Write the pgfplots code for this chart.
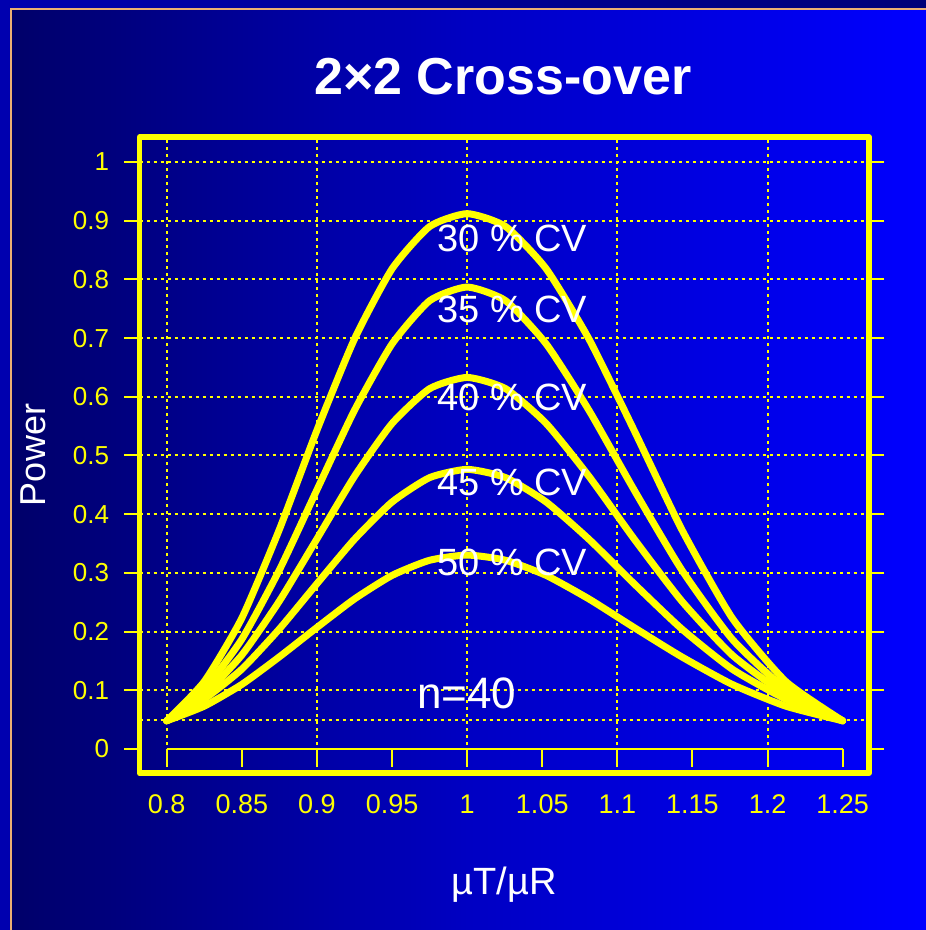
\documentclass[border=0pt]{standalone}
\usepackage{fontspec}
\setmainfont{Liberation Sans}
\usepackage{pgfplots}
\pgfplotsset{compat=1.18}
\definecolor{bgL}{RGB}{0,0,105}
\definecolor{bgM}{RGB}{0,0,195}
\definecolor{bgR}{RGB}{0,0,255}
\definecolor{outL}{RGB}{0,0,175}
\definecolor{outR}{RGB}{0,0,120}
\definecolor{tanb}{RGB}{235,175,115}
\definecolor{yel}{RGB}{255,255,0}

\pgfplotstableread{
x       cv30   cv35   cv40   cv45   cv50
0.8     0.048  0.048  0.048  0.048  0.048
0.825   0.115  0.102  0.093  0.085  0.073
0.85    0.223  0.187  0.160  0.136  0.110
0.875   0.374  0.305  0.252  0.2045 0.157
0.9     0.543  0.4415 0.358  0.2816 0.207
0.925   0.6985 0.577  0.4645 0.3573 0.2556
0.95    0.818  0.690  0.5545 0.4207 0.2957
0.975   0.890  0.7636 0.6138 0.4623 0.3215
1.0     0.912  0.787  0.633  0.4764 0.3304
1.02564 0.890  0.7636 0.6138 0.4623 0.3215
1.05263 0.818  0.690  0.5545 0.4207 0.2957
1.08108 0.6985 0.577  0.4645 0.3573 0.2556
1.11111 0.543  0.4415 0.358  0.2816 0.207
1.14286 0.374  0.305  0.252  0.2045 0.157
1.17647 0.223  0.187  0.160  0.136  0.110
1.21212 0.115  0.102  0.093  0.085  0.073
1.25    0.048  0.048  0.048  0.048  0.048
}\powertab

\begin{document}
\begin{tikzpicture}[x=1pt,y=1pt]
\useasboundingbox (0,0) rectangle (926,930);
\shade[left color=outL, right color=outR] (0,0) rectangle (926,930);
\shade[left color=bgL, right color=bgR, middle color=bgM] (11,0) rectangle (926,921);
\draw[tanb, line width=2.2pt] (11,0) -- (11,921) -- (926,921);
\node[white, font=\fontsize{52}{62}\selectfont\bfseries, anchor=base, inner sep=0pt] at (503,835) {2×2 Cross-over};
\node[white, font=\fontsize{36}{43}\selectfont, rotate=90, anchor=base, inner sep=0pt] at (45,475) {Power};
\node[white, font=\fontsize{38}{46}\selectfont, anchor=base, inner sep=0pt] at (504,35) {µT/µR};
\begin{axis}[
  at={(139.5pt,156.8pt)}, anchor=south west,
  scale only axis, width=729.7pt, height=636pt,
  xmin=0.78189, xmax=1.26764, ymin=-0.04123, ymax=1.04225,
  axis line style={yel, line width=5.5pt, line cap=round, line join=round},
  xtick={0.8,0.85,0.9,0.95,1,1.05,1.1,1.15,1.2,1.25},
  xticklabels={0.8,0.85,0.9,0.95,1,1.05,1.1,1.15,1.2,1.25},
  ytick={0,0.1,0.2,0.3,0.4,0.5,0.6,0.7,0.8,0.9,1},
  yticklabels={0,0.1,0.2,0.3,0.4,0.5,0.6,0.7,0.8,0.9,1},
  xtick pos=bottom, ytick pos=both, yticklabel pos=left,
  tick align=outside, major tick length=15pt,
  tick style={yel, line width=2pt},
  x tick style={draw=none},
  minor xtick={0.8,0.9,1,1.1,1.2},
  minor ytick={0.05,0.1,0.2,0.3,0.4,0.5,0.6,0.7,0.8,0.9,1},
  minor tick length=0pt,
  xminorgrids=true, yminorgrids=true,
  minor grid style={yel, line width=2pt, dash pattern=on 3pt off 4pt},
  /pgf/number format/assume math mode=true,
  yticklabel style={yel, font=\fontsize{26}{30}\selectfont, xshift=-12pt},
  xticklabel style={yel, font=\fontsize{27}{31}\selectfont, yshift=-3pt},
]
\draw[yel, line width=2pt] (axis cs:0.8,0) -- (axis cs:1.25,0);
\pgfplotsinvokeforeach{0.8,0.85,0.9,0.95,1,1.05,1.1,1.15,1.2,1.25}{
  \draw[yel, line width=2pt] (axis cs:#1,0) -- ++(0pt,-17.7pt);
}
\pgfplotsset{cvline/.style={yel, line width=7pt, line join=round, line cap=round, no markers, smooth, tension=0.35}}
\addplot[cvline] table[x=x, y=cv50] {\powertab};
\addplot[cvline] table[x=x, y=cv45] {\powertab};
\addplot[cvline] table[x=x, y=cv40] {\powertab};
\addplot[cvline] table[x=x, y=cv35] {\powertab};
\addplot[cvline] table[x=x, y=cv30] {\powertab};
\node[white, font=\fontsize{38}{46}\selectfont, anchor=base west, inner sep=0pt] at (axis cs:0.98,0.848) {30 \% CV};
\node[white, font=\fontsize{38}{46}\selectfont, anchor=base west, inner sep=0pt] at (axis cs:0.98,0.726) {35 \% CV};
\node[white, font=\fontsize{38}{46}\selectfont, anchor=base west, inner sep=0pt] at (axis cs:0.98,0.5775) {40 \% CV};
\node[white, font=\fontsize{38}{46}\selectfont, anchor=base west, inner sep=0pt] at (axis cs:0.98,0.431) {45 \% CV};
\node[white, font=\fontsize{38}{46}\selectfont, anchor=base west, inner sep=0pt] at (axis cs:0.98,0.2956) {50 \% CV};
\node[white, font=\fontsize{44}{53}\selectfont, anchor=base west, inner sep=0pt] at (axis cs:0.9666,0.0698) {n=40};
\end{axis}
\end{tikzpicture}
\end{document}
